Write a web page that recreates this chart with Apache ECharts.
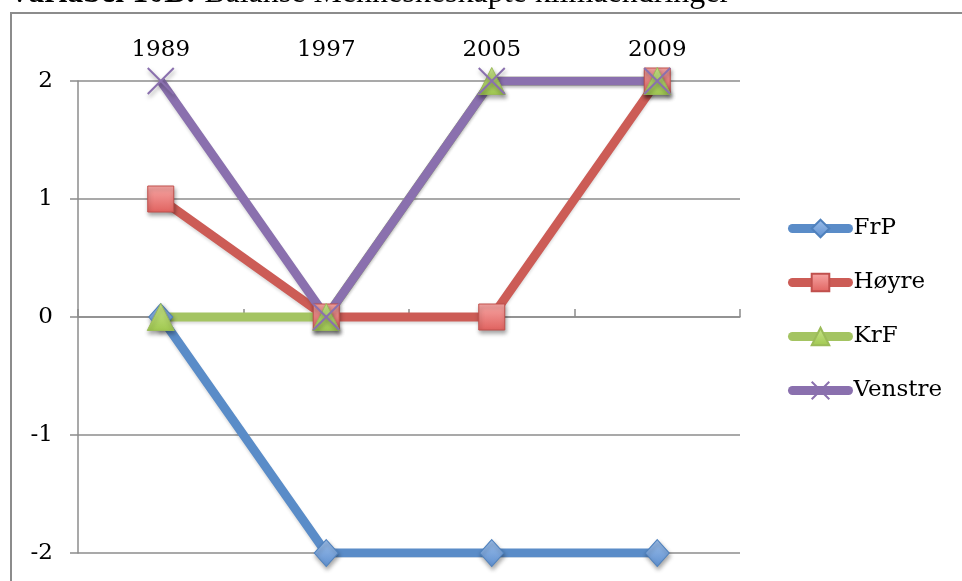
<!DOCTYPE html>
<html>
<head>
<meta charset="utf-8">
<script src="https://cdn.jsdelivr.net/npm/echarts@6/dist/echarts.min.js"></script>
<style>
html,body{margin:0;padding:0;background:#fff;}
#c{width:962px;height:581px;}
</style>
</head>
<body>
<div id="c"></div>
<script>
const years = ['1989', '1997', '2005', '2009'];
const seriesNames = ['FrP', 'Høyre', 'KrF', 'Venstre'];
const frp = [0, -2, -2, -2];
const hoyre = [1, 0, 0, 2];
const krf = [0, 0, 2, 2];
const venstre = [2, 0, 2, 2];
const yTicks = [-2, -1, 0, 1, 2];

const FONT = 'DejaVu Serif';
function grad(top, bottom) {
  return new echarts.graphic.LinearGradient(0, 0, 0, 1, [
    {offset: 0, color: top}, {offset: 1, color: bottom}
  ]);
}
const shadow = {shadowBlur: 4, shadowOffsetX: 1, shadowOffsetY: 3, shadowColor: 'rgba(0,0,0,0.35)'};

function mk(name, data, lineColor, symbol, size, fill, border, bw) {
  return {
    name: name, type: 'line', data: data,
    symbol: symbol, symbolSize: size,
    showAllSymbol: true,
    lineStyle: {width: 9, color: lineColor, cap: 'butt', join: 'miter',
      shadowBlur: 3, shadowOffsetY: 2, shadowColor: 'rgba(0,0,0,0.15)'},
    itemStyle: Object.assign({color: fill, borderColor: border, borderWidth: bw}, shadow),
    emphasis: {disabled: true},
    animation: false
  };
}

const chart = echarts.init(document.getElementById('c'));
chart.setOption({
  animation: false,
  backgroundColor: '#fff',
  graphic: [
    {type: 'rect', shape: {x: 11, y: 13, width: 1000, height: 700},
     style: {fill: 'none', stroke: '#8c8c8c', lineWidth: 2}, silent: true},
    {type: 'text', x: 8, y: -6,
     style: {text: '{b|Variabel 10B:} Balanse Menneskeskapte klimaendringer',
       font: '32px "Liberation Serif"', fill: '#000', verticalAlign: 'middle',
       rich: {b: {fontWeight: 'bold', fontFamily: 'Liberation Serif', fontSize: 32}}},
     silent: true}
  ],
  grid: {left: 78, right: 222, top: 81, bottom: 28},
  legend: {
    orient: 'vertical', left: 783, top: 212,
    itemWidth: 56, itemHeight: 22, itemGap: 31,
    data: seriesNames,
    lineStyle: {width: 9, cap: 'round'},
    textStyle: {fontFamily: FONT, fontSize: 23, color: '#000'}
  },
  xAxis: {
    type: 'category', position: 'top', data: years, boundaryGap: true,
    axisLine: {show: true, lineStyle: {color: '#8c8c8c', width: 1.5}},
    axisTick: {show: true, length: 8, lineStyle: {color: '#8c8c8c', width: 1.5}},
    axisLabel: {fontFamily: FONT, fontSize: 23, color: '#000', margin: 19},
    splitLine: {show: false}
  },
  yAxis: {
    type: 'value', min: -2, max: 2, interval: 1,
    axisLine: {show: true, lineStyle: {color: '#8c8c8c', width: 1.5}},
    axisTick: {show: true, length: 8, lineStyle: {color: '#8c8c8c', width: 1.5}},
    axisLabel: {fontFamily: FONT, fontSize: 23, color: '#000', margin: 25, verticalAlign: 'middle', padding: [5,0,0,0],
      formatter: function (v) { return yTicks.indexOf(v) >= 0 ? String(v) : ''; }},
    splitLine: {show: true, lineStyle: {color: '#8c8c8c', width: 1.5}}
  },
  series: [
    mk('FrP', frp, '#5A8CC8', 'diamond', [24, 27], grad('#9DBFEA', '#5F90D0'), '#4F81BD', 1),
    mk('Høyre', hoyre, '#CC5C56', 'rect', 26, grad('#F7A7A5', '#E0625F'), '#C0504D', 1),
    mk('KrF', krf, '#A4C462', 'triangle', [27, 27], grad('#C9E58B', '#A0C850'), '#9BBB59', 1),
    mk('Venstre', venstre, '#8A70AE', 'path://M0,0L10,10M10,0L0,10', 26, '#8A70AE', '#8A70AE', 2)
  ]
});
</script>
</body>
</html>
